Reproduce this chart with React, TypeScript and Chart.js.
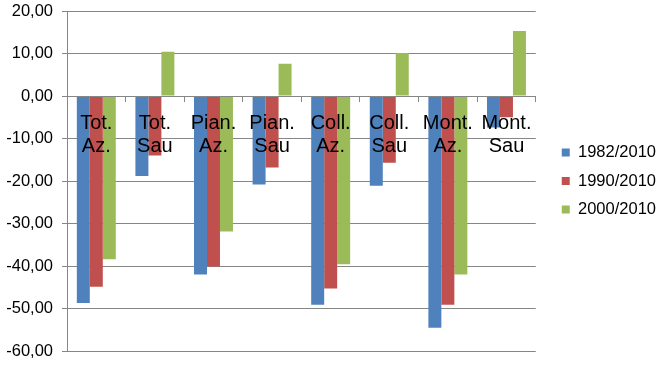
import React, { useEffect, useRef } from "react";
import { Chart, registerables } from "chart.js";

Chart.register(...registerables);

const categories: string[][] = [
  ["Tot.", "Az."],
  ["Tot.", "Sau"],
  ["Pian.", "Az."],
  ["Pian.", "Sau"],
  ["Coll.", "Az."],
  ["Coll.", "Sau"],
  ["Mont.", "Az."],
  ["Mont.", "Sau"],
];
const series1982: number[] = [-48.7, -18.8, -42.0, -20.8, -49.1, -21.1, -54.5, -7.4];
const series1990: number[] = [-44.9, -14.0, -40.1, -16.8, -45.3, -15.7, -49.1, -5.0];
const series2000: number[] = [-38.4, 10.4, -31.9, 7.6, -39.6, 10.1, -42.0, 15.3];
const seriesNames: string[] = ["1982/2010", "1990/2010", "2000/2010"];
const yMin = -60;
const yMax = 20;
const yStep = 10;

const COLORS = ["#4F81BD", "#C0504D", "#9BBB59"];
const GRID = "#868686";
const FONT = "'Liberation Sans', Arial, sans-serif";

export default function App() {
  const ref = useRef<HTMLCanvasElement | null>(null);

  useEffect(() => {
    if (!ref.current) return;
    Chart.defaults.font.family = FONT;
    const legendShift = {
      id: "legendShift",
      afterLayout(chart: any) {
        if (chart.legend) {
          chart.legend.left += 14;
          chart.legend.right += 14;
        }
      },
    };
    const chart = new Chart(ref.current, {
      type: "bar",
      data: {
        labels: categories,
        datasets: [series1982, series1990, series2000].map((d, i) => ({
          label: seriesNames[i],
          data: d,
          backgroundColor: COLORS[i],
          borderWidth: 0,
          categoryPercentage: 0.665,
          barPercentage: 1,
        })),
      },
      options: {
        responsive: false,
        animation: false,
        layout: { padding: { top: 11, bottom: 16, left: 0, right: 11 } },
        plugins: {
          tooltip: { enabled: false },
          legend: {
            position: "right",
            labels: {
              boxWidth: 8,
              boxHeight: 8,
              padding: 12,
              color: "#000",
              font: { size: 16.5, family: FONT },
            },
          },
        },
        scales: {
          x: {
            position: { y: 0 } as any,
            grid: {
              drawOnChartArea: false,
              drawTicks: true,
              tickLength: 5,
              color: GRID,
              offset: true,
            },
            border: { display: true, color: GRID, z: 1 },
            ticks: {
              z: 2,
              color: "#000",
              padding: 11,
              maxRotation: 0,
              autoSkip: false,
              font: { size: 20, family: FONT, lineHeight: 1.15 },
            },
          },
          y: {
            min: yMin,
            max: yMax,
            afterFit(scale: any) {
              scale.width = 67;
              scale.paddingTop = 0;
              scale.paddingBottom = 0;
            },
            grid: { color: GRID, tickLength: 5, drawTicks: true },
            border: { display: true, color: GRID },
            ticks: {
              stepSize: yStep,
              padding: 9,
              color: "#000",
              font: { size: 16.5, family: FONT },
              callback: (v: any) => Number(v).toFixed(2).replace(".", ","),
            },
          },
        },
      },
      plugins: [legendShift],
    });
    return () => chart.destroy();
  }, []);

  return (
    <div style={{ position: "absolute", left: 0, top: 0, width: 663, height: 367, background: "#fff" }}>
      <canvas ref={ref} width={663} height={367} style={{ display: "block" }} />
    </div>
  );
}
